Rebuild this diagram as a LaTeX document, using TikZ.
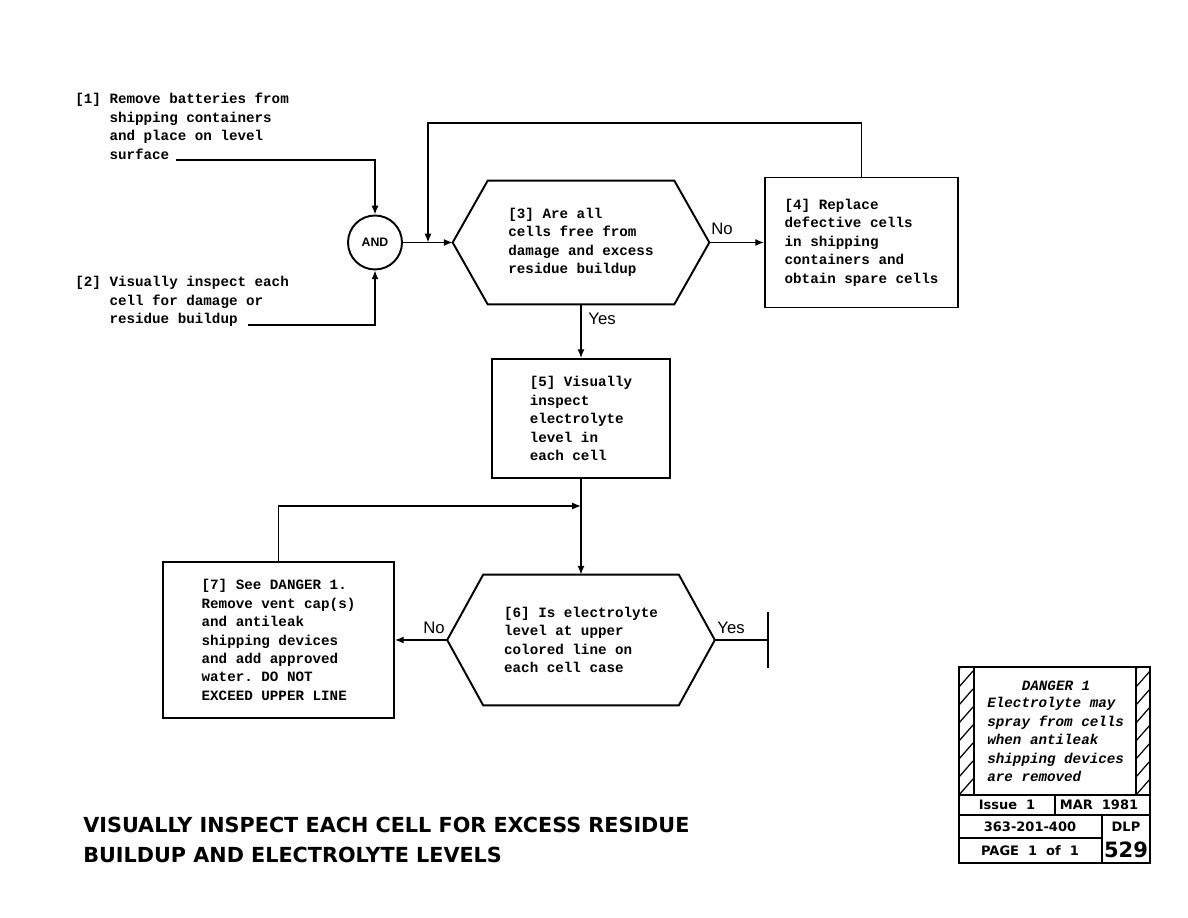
\documentclass[tikz,border=0pt]{standalone}
\usepackage{fontspec}
\setmainfont{Liberation Serif}
\setsansfont{Liberation Sans}
\setmonofont{Liberation Mono}
\newfontfamily\headFont{DejaVu Sans}
\usetikzlibrary{arrows.meta}

\newcommand{\stepFont}{\ttfamily\bfseries\fontsize{8.1}{10.5}\selectfont}
\newcommand{\warnFont}{\ttfamily\bfseries\itshape\fontsize{8.1}{10.5}\selectfont}
\newcommand{\tagFont}{\sffamily\fontsize{9.5}{11}\selectfont}
\newcommand{\tabFont}{\headFont\bfseries\fontsize{7.4}{9}\selectfont}

\begin{document}
\begin{tikzpicture}[x=0.02cm, y=-0.02cm,
    >={Latex[length=5pt,width=4pt]},
    flow/.style={line width=0.8pt},
    frame/.style={line width=1.1pt},
    stepnote/.style={anchor=north west, inner sep=0pt, align=left, font=\stepFont},
    stepbox/.style={draw, frame, align=left, font=\stepFont},
    hexnode/.style={align=left, font=\stepFont},
    tag/.style={font=\tagFont, inner sep=1pt}]

    \useasboundingbox (0,0) rectangle (1188,918);

    % Starting conditions
    \node[stepnote] (s1) at (75,93) {[1] Remove batteries from\\\phantom{[1] }shipping containers\\\phantom{[1] }and place on level\\\phantom{[1] }surface};
    \node[stepnote] (s2) at (75,276) {[2] Visually inspect each\\\phantom{[2] }cell for damage or\\\phantom{[2] }residue buildup};
    \coordinate (s1end) at (176,160);
    \coordinate (s2end) at (248,325);

    % AND gate
    \node[draw, frame, circle, minimum size=1.08cm, inner sep=0pt,
          font=\sffamily\bfseries\fontsize{7}{8}\selectfont] (gate) at (375,242.5) {AND};
    \draw[flow,->] (s1end) -| (gate.north);
    \draw[flow,->] (s2end) -| (gate.south);

    % Decision [3]
    \node[hexnode, minimum width=5.12cm, minimum height=2.46cm] (q3) at (581,242.5)
        {[3] Are all\\cells free from\\damage and excess\\residue buildup};
    \draw[frame] (q3.west) -- ([xshift=0.7cm]q3.north west) -- ([xshift=-0.7cm]q3.north east)
        -- (q3.east) -- ([xshift=-0.7cm]q3.south east) -- ([xshift=0.7cm]q3.south west) -- cycle;
    \draw[flow,->] (gate) -- (q3.west);

    % Step [4] and loop back
    \node[stepbox, minimum width=3.86cm, minimum height=2.6cm] (b4) at (861.5,242.5)
        {[4] Replace\\defective cells\\in shipping\\containers and\\obtain spare cells};
    \draw[flow,->] (q3.east) -- (b4.west);
    \node[tag] (no3) at (722,229) {No};
    \coordinate (loopTop) at (428,123);
    \coordinate (join) at (428,242.5);
    \draw[flow,->] (b4.north) |- (loopTop) -- (join);

    % Step [5]
    \node[stepbox, minimum width=3.56cm, minimum height=2.38cm] (b5) at (581,418.5)
        {[5] Visually\\inspect\\electrolyte\\level in\\each cell};
    \draw[flow,->] (q3.south) -- (b5.north);
    \node[tag] (yes3) at (602,319) {Yes};

    % Decision [6]
    \node[hexnode, minimum width=5.34cm, minimum height=2.6cm] (q6) at (581,640)
        {[6] Is electrolyte\\level at upper\\colored line on\\each cell case};
    \draw[frame] (q6.west) -- ([xshift=0.72cm]q6.north west) -- ([xshift=-0.72cm]q6.north east)
        -- (q6.east) -- ([xshift=-0.72cm]q6.south east) -- ([xshift=0.72cm]q6.south west) -- cycle;
    \draw[flow,->] (b5.south) -- (q6.north);

    % Step [7] and loop back
    \node[stepbox, minimum width=4.62cm, minimum height=3.12cm] (b7) at (278.5,640)
        {[7] See DANGER 1.\\Remove vent cap(s)\\and antileak\\shipping devices\\and add approved\\water. DO NOT\\EXCEED UPPER LINE};
    \draw[flow,->] (q6.west) -- (b7.east);
    \node[tag] (no6) at (434,628) {No};
    \coordinate (merge) at (581,506);
    \draw[flow,->] (b7.north) |- (merge);

    % End of flow
    \coordinate (stop) at (768,640);
    \draw[flow] (q6.east) -- (stop);
    \draw[line width=1.6pt] ([yshift=0.56cm]stop) -- ([yshift=-0.56cm]stop);
    \node[tag] (yes6) at (731,628) {Yes};

    % Title
    \node[anchor=north west, inner sep=0pt, align=left,
          font=\headFont\bfseries\fontsize{11.8}{17}\selectfont] (title) at (83,817)
        {VISUALLY INSPECT EACH CELL FOR EXCESS RESIDUE\\BUILDUP AND ELECTROLYTE LEVELS};

    % Danger block
    \draw[frame] (959,667) rectangle (1150,863);
    \draw[frame] (974,667) -- (974,795);
    \draw[frame] (1136,667) -- (1136,795);
    \foreach \xLeft in {959,1136} {
        \begin{scope}
            \clip (\xLeft,667) rectangle (\xLeft+14,795);
            \foreach \k in {0,...,8}
                \draw[line width=0.7pt] (\xLeft,795-\k*18) -- ++(14,-16);
        \end{scope}
    }
    \node[font=\warnFont, inner sep=0pt] (warnHead) at (1056,686) {DANGER 1};
    \node[stepnote, font=\warnFont] (warn) at (987,697)
        {Electrolyte may\\spray from cells\\when antileak\\shipping devices\\are removed};

    % Issue table
    \draw[frame] (959,795) -- (1150,795);
    \draw[frame] (959,815) -- (1150,815);
    \draw[frame] (959,838) -- (1102,838);
    \draw[frame] (1055,795) -- (1055,815);
    \draw[frame] (1102,815) -- (1102,863);
    \node[font=\tabFont] (issue) at (1007,805) {Issue\ \ 1};
    \node[font=\tabFont] (issueDate) at (1099,805) {MAR\ \ 1981};
    \node[font=\tabFont] (docNum) at (1030,826.5) {363-201-400};
    \node[font=\tabFont] (page) at (1030,850.5) {PAGE\ \ 1\ \ of\ \ 1};
    \node[font=\tabFont] (series) at (1126,826.5) {DLP};
    \node[font=\headFont\bfseries\fontsize{12}{14}\selectfont] (sheet) at (1126,850) {529};

\end{tikzpicture}
\end{document}
